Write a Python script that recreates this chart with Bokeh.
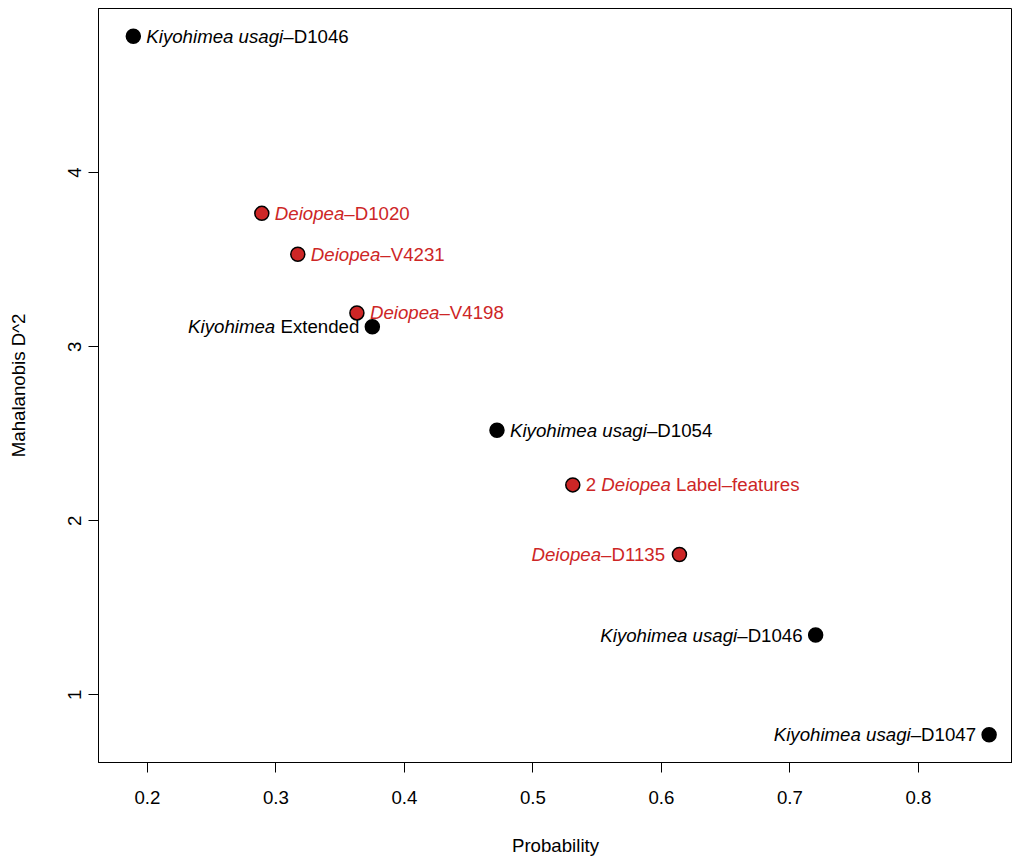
from bokeh.plotting import figure
from bokeh.models import ColumnDataSource, FixedTicker, Range1d
from bokeh.embed import file_html
from bokeh.resources import INLINE
from bokeh.core.properties import value

# ---- data ----
probability = [0.189, 0.289, 0.317, 0.363, 0.375, 0.472, 0.531, 0.614, 0.720, 0.855]
mahalanobis = [4.783, 3.766, 3.531, 3.194, 3.114, 2.520, 2.206, 1.806, 1.343, 0.771]
group = ["Kiyohimea", "Deiopea", "Deiopea", "Deiopea", "Kiyohimea",
         "Kiyohimea", "Deiopea", "Deiopea", "Kiyohimea", "Kiyohimea"]
label_parts = [
    [("Kiyohimea usagi", "italic"), ("–D1046", "normal")],
    [("Deiopea", "italic"), ("–D1020", "normal")],
    [("Deiopea", "italic"), ("–V4231", "normal")],
    [("Deiopea", "italic"), ("–V4198", "normal")],
    [("Kiyohimea", "italic"), (" Extended", "normal")],
    [("Kiyohimea usagi", "italic"), ("–D1054", "normal")],
    [("2 ", "normal"), ("Deiopea", "italic"), (" Label–features", "normal")],
    [("Deiopea", "italic"), ("–D1135", "normal")],
    [("Kiyohimea usagi", "italic"), ("–D1046", "normal")],
    [("Kiyohimea usagi", "italic"), ("–D1047", "normal")],
]
label_side = ["right", "right", "right", "right", "left",
              "right", "right", "left", "left", "left"]
x_ticks = [0.2, 0.3, 0.4, 0.5, 0.6, 0.7, 0.8]
y_ticks = [1, 2, 3, 4]
x_title = "Probability"
y_title = "Mahalanobis D^2"

# ---- style ----
FONT = "Liberation Sans"
FS_PX = 18.67
RED = "#CD2626"
colors = {"Kiyohimea": "black", "Deiopea": RED}

# Arial / Liberation Sans advance widths (per 1000 em)
W = {' ': 278, '–': 556, '-': 333, 'D': 722, 'E': 667, 'K': 667, 'L': 556, 'V': 667,
     'a': 556, 'b': 556, 'c': 500, 'd': 556, 'e': 556, 'f': 278, 'g': 556, 'h': 556,
     'i': 222, 'l': 222, 'm': 833, 'n': 556, 'o': 556, 'p': 556, 'r': 333, 's': 500,
     't': 278, 'u': 556, 'x': 500, 'y': 500}
for d in "0123456789":
    W[d] = 556


def text_w(s):
    return sum(W.get(c, 556) for c in s) * FS_PX / 1000.0


GAP = 13

segs = {"italic": dict(x=[], y=[], text=[], xo=[], color=[]),
        "normal": dict(x=[], y=[], text=[], xo=[], color=[])}
for px, py, parts, side, g in zip(probability, mahalanobis, label_parts, label_side, group):
    total = sum(text_w(t) for t, _ in parts)
    off = GAP if side == "right" else -GAP - total
    for t, st in parts:
        lead = len(t) - len(t.lstrip(" "))
        core = t.strip(" ")
        d = segs[st]
        d["x"].append(px)
        d["y"].append(py)
        d["text"].append(core)
        d["xo"].append(off + text_w(" " * lead))
        d["color"].append(colors[g])
        off += text_w(t)

p = figure(width=1012, height=858, output_backend="svg", toolbar_location=None,
           x_range=Range1d(0.1619, 0.8732), y_range=Range1d(0.611, 4.943),
           min_border_left=98, min_border_right=0, min_border_top=8, min_border_bottom=92)
p.grid.visible = False
p.outline_line_color = "black"
p.outline_line_width = 1
p.background_fill_color = "white"
p.border_fill_color = "white"

for ax in (p.xaxis, p.yaxis):
    ax.major_tick_in = 0
    ax.major_tick_out = 10
    ax.minor_tick_in = 0
    ax.minor_tick_out = 0
    ax.axis_line_color = "black"
    ax.major_tick_line_color = "black"
    ax.major_label_text_font = FONT
    ax.major_label_text_font_size = "14pt"
    ax.major_label_text_color = "black"
    ax.axis_label_text_font = FONT
    ax.axis_label_text_font_size = "14pt"
    ax.axis_label_text_font_style = "normal"
    ax.axis_label_text_color = "black"

p.xaxis.ticker = FixedTicker(ticks=x_ticks)
p.yaxis.ticker = FixedTicker(ticks=y_ticks)
p.yaxis.major_label_orientation = "vertical"
p.xaxis.axis_label = x_title
p.yaxis.axis_label = y_title
p.xaxis.major_label_standoff = 18
p.xaxis.axis_label_standoff = 28
p.yaxis.major_label_standoff = 7
p.yaxis.axis_label_standoff = 37

pts = ColumnDataSource(dict(x=probability, y=mahalanobis,
                            fill=[colors[g] for g in group]))
p.scatter("x", "y", source=pts, size=14, fill_color="fill",
          line_color="black", line_width=1.5)

for st, d in segs.items():
    src = ColumnDataSource(d)
    p.text("x", "y", text="text", source=src, x_offset="xo",
           text_color="color", text_font=value(FONT), text_font_size="14pt",
           text_font_style=st, text_align="left", text_baseline="middle")

open("out.html", "w").write(file_html(p, INLINE))
